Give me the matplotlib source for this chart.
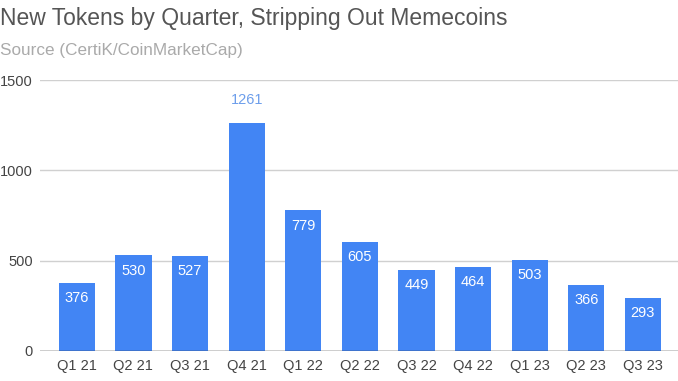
import matplotlib.pyplot as plt

plt.rcParams['font.family'] = ['Liberation Sans', 'DejaVu Sans']

quarters = ['Q1 21', 'Q2 21', 'Q3 21', 'Q4 21', 'Q1 22', 'Q2 22',
            'Q3 22', 'Q4 22', 'Q1 23', 'Q2 23', 'Q3 23']
tokens = [376, 530, 527, 1261, 779, 605, 449, 464, 503, 366, 293]

blue = '#4285f4'

fig = plt.figure(figsize=(6.78, 3.81), dpi=100)
ax = fig.add_axes([0.059, 0.079, 0.941, 0.711])

x = range(len(quarters))
bars = ax.bar(x, tokens, width=0.64, color=blue, zorder=3)

top = max(tokens)
for b, v in zip(bars, tokens):
    cx = b.get_x() + b.get_width() / 2
    if v == top:
        ax.annotate(str(v), (cx, v), xytext=(0, 12), textcoords='offset points',
                    ha='center', va='bottom', color='#6d9eeb', fontsize=10.5)
    else:
        ax.annotate(str(v), (cx, v), xytext=(0, -6), textcoords='offset points',
                    ha='center', va='top', color='white', fontsize=10.5)

ax.set_ylim(0, 1500)
ax.set_xlim(-0.65, 10.62)
ax.set_yticks([0, 500, 1000, 1500])
ax.set_xticks(list(x))
ax.set_xticklabels(quarters)
ax.grid(axis='y', color='#d0d0d0', linewidth=1, zorder=0)
ax.axhline(0, color='#333333', linewidth=1, zorder=4)
for s in ax.spines.values():
    s.set_visible(False)
ax.tick_params(length=0, labelsize=10.5, colors='#444444', pad=6)
ax.tick_params(axis='y', pad=5)

fig.text(0.0, 0.952, 'New Tokens by Quarter, Stripping Out Memecoins',
         fontsize=16.5, color='#555555', va='center', ha='left')
fig.text(0.0, 0.868, 'Source (CertiK/CoinMarketCap)',
         fontsize=12.3, color='#aaaaaa', va='center', ha='left')

fig.savefig('out.png', dpi=100)
